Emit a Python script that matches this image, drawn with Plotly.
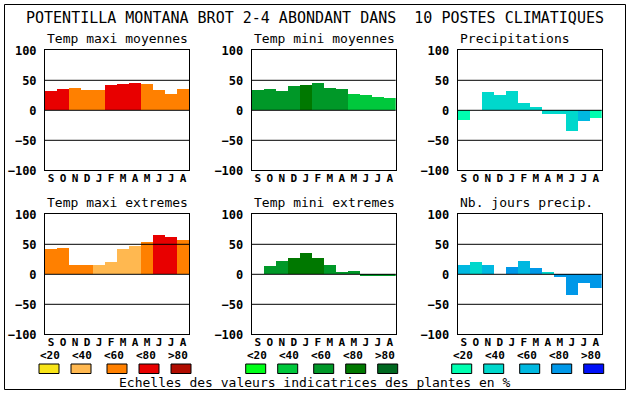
import plotly.graph_objects as go

# ---------------- data ----------------
months = ["S", "O", "N", "D", "J", "F", "M", "A", "M", "J", "J", "A"]
y_ticks = [-100, -50, 0, 50, 100]
scale_labels = ["<20", "<40", "<60", "<80", ">80"]

title_text = "POTENTILLA MONTANA BROT 2-4 ABONDANT DANS  10 POSTES CLIMATIQUES"
footer_text = "Echelles des valeurs indicatrices des plantes en %"

panel_titles = ["Temp maxi moyennes", "Temp mini moyennes", "Precipitations",
                "Temp maxi extremes", "Temp mini extremes", "Nb. jours precip."]

temp_maxi_moy = [32, 35.5, 36.5, 34, 34, 42, 44, 45.5, 44, 34, 27, 35.5]
temp_mini_moy = [34, 35.5, 32, 40.5, 42, 45.5, 37, 35.5, 26.5, 25, 21.5, 20]
precipitations = [-16, 0, 30, 25, 31.5, 11.5, 5, -6, -6, -34.5, -18, -12.5]
temp_maxi_ext = [42.5, 44.5, 15.5, 15.5, 15.5, 21, 42.5, 47.5, 54, 66, 62.5, 57.5]
temp_mini_ext = [0, 14, 22.5, 27.5, 36, 27.5, 15.5, 3.5, 5.5, -2, -2, -2]
nb_jours_precip = [16, 20.5, 16, 0, 12.5, 22, 11, 4, -4, -34, -14.5, -22]

# indicator class (1..5 -> <20 .. >80) of each bar
cls_temp_maxi_moy = [4, 4, 3, 3, 3, 4, 4, 4, 3, 3, 3, 3]
cls_temp_mini_moy = [3, 3, 3, 3, 4, 3, 3, 3, 2, 2, 2, 2]
cls_precipitations = [1, 1, 2, 2, 2, 2, 2, 2, 2, 2, 3, 1]
cls_temp_maxi_ext = [3, 3, 3, 3, 2, 2, 2, 2, 3, 4, 4, 3]
cls_temp_mini_ext = [3, 3, 3, 4, 4, 4, 3, 3, 3, 3, 3, 3]
cls_nb_jours = [3, 2, 3, 4, 4, 3, 4, 2, 4, 4, 4, 4]

# ---------------- styles ----------------
pal_temp = ["#F8E418", "#FFB850", "#FF8000", "#E80000", "#B00C00"]
pal_green = ["#00FF18", "#00C83C", "#009828", "#007800", "#006820"]
pal_blue = ["#00FFB0", "#00D8CC", "#00B8E0", "#0098E8", "#0010F8"]

panels = [
    (temp_maxi_moy, cls_temp_maxi_moy, pal_temp),
    (temp_mini_moy, cls_temp_mini_moy, pal_green),
    (precipitations, cls_precipitations, pal_blue),
    (temp_maxi_ext, cls_temp_maxi_ext, pal_temp),
    (temp_mini_ext, cls_temp_mini_ext, pal_green),
    (nb_jours_precip, cls_nb_jours, pal_blue),
]

W, H = 630, 394
col_x0 = [45, 251.7, 457.7]
pw = 144
row_y0 = [50.3, 214.3]
ph = 120

MONO = "DejaVu Sans Mono"

fig = go.Figure()
layout = dict(
    width=W, height=H, autosize=False,
    margin=dict(l=0, r=0, t=0, b=0, pad=0, autoexpand=False),
    paper_bgcolor="white", plot_bgcolor="white",
    showlegend=False, bargap=0, font=dict(family=MONO, color="black"),
)
shapes = []
annotations = []

for i, (vals, cls, pal) in enumerate(panels):
    r, c = divmod(i, 3)
    n = "" if i == 0 else str(i + 1)
    xa, ya = "x" + n, "y" + n
    fig.add_trace(go.Bar(
        x=list(range(len(months))), y=vals, width=1,
        marker=dict(color=[pal[k - 1] for k in cls], line=dict(width=0)),
        xaxis=xa, yaxis=ya, hoverinfo="skip",
    ))
    x0 = col_x0[c]
    y0 = row_y0[r]
    layout["xaxis" + n] = dict(
        domain=[x0 / W, (x0 + pw) / W], anchor=ya, automargin=False,
        range=[-0.5, len(months) - 0.5],
        tickvals=list(range(len(months))), ticktext=months,
        showgrid=False, zeroline=False, ticks="",
        showline=True, mirror=True, linecolor="black", linewidth=1,
        tickfont=dict(family=MONO, size=11, weight="bold", color="black"),
        ticklabelstandoff=-3, fixedrange=True,
    )
    layout["yaxis" + n] = dict(
        domain=[1 - (y0 + ph) / H, 1 - y0 / H], anchor=xa, automargin=False,
        range=[-100, 100], tickvals=y_ticks,
        showgrid=False, zeroline=False, ticks="",
        showline=True, mirror=True, linecolor="black", linewidth=1,
        tickfont=dict(family=MONO, size=12, weight="bold", color="black"),
        ticklabelstandoff=5, fixedrange=True,
    )
    for gv in y_ticks[1:-1]:
        shapes.append(dict(type="line", xref=xa + " domain", yref=ya,
                           x0=0, x1=1, y0=gv, y1=gv, layer="above",
                           line=dict(color="black", width=1)))
    annotations.append(dict(
        text=panel_titles[i], xref="paper", yref="paper",
        x=x0 / W, y=1 - (y0 - 12) / H, xanchor="left", yanchor="middle",
        showarrow=False, font=dict(family=MONO, size=13, color="black"),
    ))

# scale legends under each column
label_off = [5, 37, 69, 101, 133]
box_off = [-6, 26, 62, 94, 126]
for c, pal in enumerate([pal_temp, pal_green, pal_blue]):
    x0 = col_x0[c]
    for k, lab in enumerate(scale_labels):
        annotations.append(dict(
            text=lab, xref="paper", yref="paper",
            x=(x0 + label_off[k]) / W, y=1 - 355 / H,
            xanchor="center", yanchor="middle", showarrow=False,
            font=dict(family=MONO, size=11, weight="bold", color="black"),
        ))
        bx = x0 + box_off[k]
        shapes.append(dict(type="rect", xref="paper", yref="paper",
                           x0=bx / W, x1=(bx + 20) / W,
                           y0=1 - 373.5 / H, y1=1 - 364 / H,
                           fillcolor=pal[k], line=dict(color="black", width=1)))

annotations.append(dict(
    text=title_text, xref="paper", yref="paper", x=314.5 / W, y=1 - 17.7 / H,
    xanchor="center", yanchor="middle", showarrow=False,
    font=dict(family=MONO, size=15, color="black"),
))
annotations.append(dict(
    text=footer_text, xref="paper", yref="paper", x=314.5 / W, y=1 - 382.5 / H,
    xanchor="center", yanchor="middle", showarrow=False,
    font=dict(family=MONO, size=13, color="black"),
))

# outer frame
shapes.append(dict(type="rect", xref="paper", yref="paper",
                   x0=4.5 / W, x1=625.5 / W, y0=1 - 389.5 / H, y1=1 - 4.5 / H,
                   line=dict(color="black", width=1), layer="below"))

layout["shapes"] = shapes
layout["annotations"] = annotations
fig.update_layout(**layout)
fig.write_html(
    "out.html",
    config={"displayModeBar": False, "staticPlot": True},
    post_script="document.body.style.margin='0';document.body.style.padding='0';"
                "document.body.style.overflow='hidden';",
)
